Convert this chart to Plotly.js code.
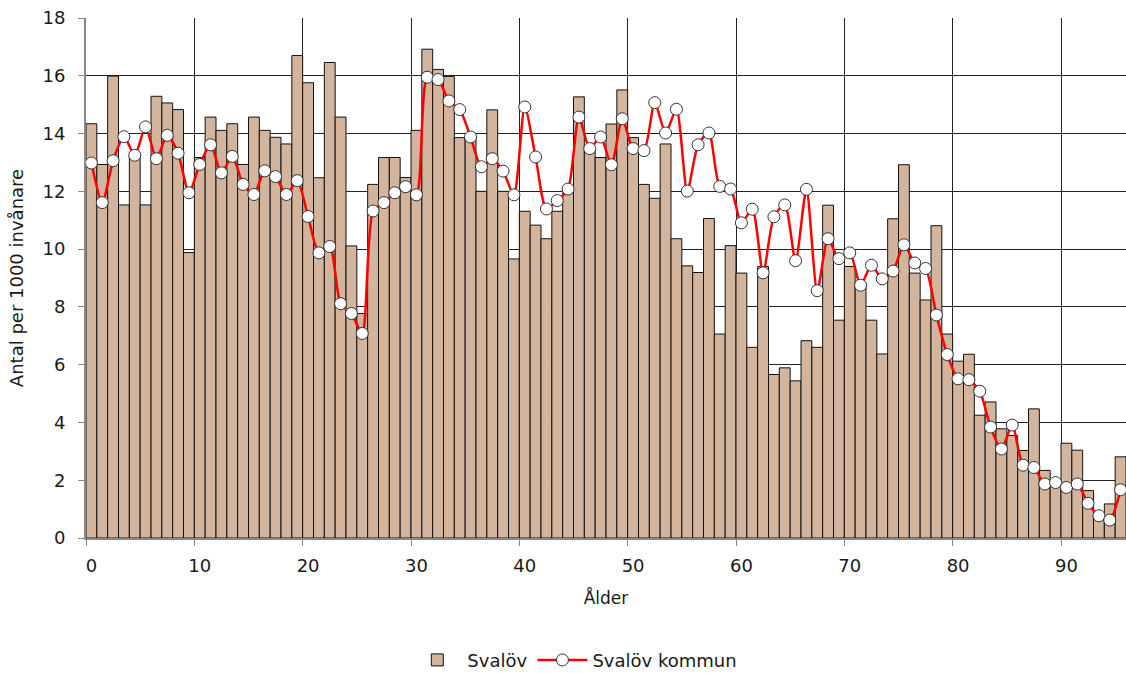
<!DOCTYPE html>
<html>
<head>
<meta charset="utf-8">
<script src="https://cdn.plot.ly/plotly-3.0.1.min.js"></script>
<style>html,body{margin:0;padding:0;background:#fff;}#chart{width:1126px;height:673px;}</style>
</head>
<body>
<div id="chart"></div>
<script>
const ages = Array.from({length: 96}, (_, i) => String(i));

const svalovBars = [
  14.34, 12.93, 15.99, 11.53, 13.25, 11.53, 15.29, 15.06, 14.83, 9.88,
  13.17, 14.57, 14.11, 14.34, 12.93, 14.57, 14.11, 13.87, 13.64, 16.70,
  15.76, 12.47, 16.46, 14.57, 10.11, 7.77, 12.24, 13.17, 13.17, 12.48,
  14.11, 16.92, 16.22, 15.98, 13.86, 13.85, 12.00, 14.82, 12.00, 9.66,
  11.31, 10.83, 10.36, 11.31, 11.95, 15.27, 13.40, 13.17, 14.33, 15.51,
  13.86, 12.24, 11.76, 13.64, 10.36, 9.42, 9.19, 11.06, 7.06, 10.12,
  9.17, 6.60, 9.40, 5.66, 5.89, 5.44, 6.83, 6.60, 11.52, 7.54,
  9.40, 8.80, 7.54, 6.37, 11.05, 12.92, 9.17, 8.24, 10.81, 7.06,
  6.12, 6.36, 4.25, 4.71, 3.78, 3.55, 3.03, 4.47, 2.34, 2.00,
  3.28, 3.04, 1.64, 0.85, 1.18, 2.81
];

const kommunLine = [
  12.98, 11.61, 13.06, 13.89, 13.25, 14.23, 13.13, 13.94, 13.32, 11.95,
  12.93, 13.61, 12.64, 13.21, 12.24, 11.89, 12.71, 12.51, 11.89, 12.37,
  11.13, 9.87, 10.09, 8.11, 7.77, 7.08, 11.32, 11.61, 11.95, 12.16,
  11.88, 15.95, 15.87, 15.13, 14.83, 13.88, 12.85, 13.13, 12.70, 11.88,
  14.92, 13.19, 11.39, 11.68, 12.08, 14.57, 13.48, 13.88, 12.92, 14.51,
  13.48, 13.41, 15.07, 14.02, 14.84, 12.01, 13.61, 14.02, 12.17, 12.08,
  10.91, 11.38, 9.18, 11.12, 11.53, 9.60, 12.07, 8.56, 10.36, 9.67,
  9.87, 8.75, 9.44, 8.97, 9.24, 10.15, 9.52, 9.33, 7.72, 6.35,
  5.51, 5.48, 5.08, 3.84, 3.08, 3.91, 2.52, 2.44, 1.87, 1.92,
  1.75, 1.87, 1.20, 0.77, 0.62, 1.67
];

const yTicks = [0, 2, 4, 6, 8, 10, 12, 14, 16, 18];

const FONT = '"DejaVu Sans", Verdana, sans-serif';
const TXT = '#1A1A1A';

const traces = [
  {
    type: 'bar',
    name: 'Svalöv',
    x: ages,
    y: svalovBars,
    marker: {color: '#D3B59D', line: {color: '#111111', width: 1}},
    hoverinfo: 'x+y'
  },
  {
    type: 'scatter',
    mode: 'lines+markers',
    name: 'Svalöv kommun',
    x: ages,
    y: kommunLine,
    line: {color: '#FF0000', width: 2.5, shape: 'spline', smoothing: 0.7},
    marker: {symbol: 'circle', size: 12, color: '#FFFFFF', line: {color: '#333333', width: 1}}
  }
];

const layout = {
  width: 1126,
  height: 673,
  margin: {l: 86, r: 0, t: 18, b: 135, autoexpand: false},
  paper_bgcolor: '#FFFFFF',
  plot_bgcolor: '#FFFFFF',
  font: {family: FONT, size: 18, color: TXT},
  bargap: 0,
  showlegend: true,
  legend: {
    orientation: 'h',
    x: 0.47,
    xanchor: 'center',
    y: -0.235,
    yanchor: 'middle',
    font: {family: FONT, size: 18, color: TXT},
    itemwidth: 50
  },
  xaxis: {
    type: 'category',
    automargin: false,
    range: [-0.5, 95.5],
    tickmode: 'linear',
    tick0: 0,
    dtick: 10,
    tickangle: 0,
    tickson: 'boundaries',
    ticks: 'outside',
    ticklen: 6,
    tickcolor: '#888888',
    ticklabelstandoff: 10,
    showgrid: true,
    gridcolor: '#222222',
    gridwidth: 1,
    showline: true,
    linecolor: '#888888',
    linewidth: 2,
    zeroline: false,
    tickfont: {family: FONT, size: 18, color: TXT},
    title: {text: 'Ålder', font: {family: FONT, size: 17, color: TXT}, standoff: 18}
  },
  yaxis: {
    automargin: false,
    range: [0, 18],
    tickmode: 'array',
    tickvals: yTicks,
    ticktext: yTicks.map(String),
    ticks: 'outside',
    ticklen: 6,
    tickcolor: '#888888',
    ticklabelstandoff: 9,
    showgrid: true,
    gridcolor: '#222222',
    gridwidth: 1,
    showline: true,
    linecolor: '#888888',
    linewidth: 2,
    zeroline: false,
    tickfont: {family: FONT, size: 18, color: TXT},
    title: {text: 'Antal per 1000 invånare', font: {family: FONT, size: 18, color: TXT}, standoff: 14}
  }
};

Plotly.newPlot('chart', traces, layout, {displayModeBar: false, staticPlot: true});
</script>
</body>
</html>
